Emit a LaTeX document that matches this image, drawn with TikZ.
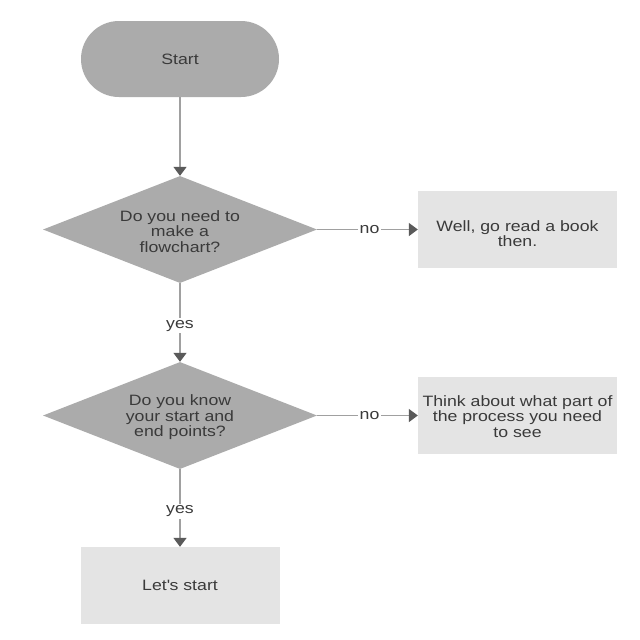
\documentclass[tikz,border=0pt]{standalone}
\usepackage{fontspec}
\setmainfont{Liberation Sans}[FakeStretch=1.18]
\usetikzlibrary{shapes.geometric,arrows.meta}
\definecolor{darkfill}{HTML}{ABABAB}
\definecolor{lightfill}{HTML}{E4E4E4}
\definecolor{linegray}{HTML}{A0A0A0}
\definecolor{headgray}{HTML}{5A5A5A}
\definecolor{txtgray}{HTML}{3A3A3A}
\begin{document}
\begin{tikzpicture}[x=1pt,y=-1pt,
  every node/.style={font=\fontsize{15pt}{15.5pt}\selectfont, text=txtgray},
  startbox/.style={rectangle, rounded corners=38pt, fill=darkfill, minimum width=198pt, minimum height=76pt, inner sep=0pt},
  decbox/.style={diamond, fill=darkfill, minimum width=274pt, minimum height=107pt, inner sep=0pt},
  procbox/.style={rectangle, fill=lightfill, minimum width=199pt, minimum height=77pt, inner sep=0pt},
  lbl/.style={align=center, inner sep=0pt},
  conn/.style={draw=linegray, line width=1.6pt, -{Triangle[color=headgray, width=13pt, length=9pt]}},
  tag/.style={fill=white, inner sep=2pt}
]
\useasboundingbox (0,0) rectangle (640,640);
\fill[white] (0,0) rectangle (640,640);

\node[startbox] (start) at (180,59) {};
\node[lbl] (startt) at (start.center) {Start};

\node[decbox] (d1) at (180,229.5) {};
\node[lbl] (d1t) at ([yshift=-2pt]d1.center) {Do you need to\\make a\\flowchart?};

\node[procbox] (b1) at (517.5,229.5) {};
\node[lbl] (b1t) at ([yshift=-4pt]b1.center) {Well, go read a book\\then.};

\node[decbox] (d2) at (180,415.5) {};
\node[lbl] (d2t) at ([yshift=-2pt]d2.center) {Do you know\\your start and\\end points?};

\node[procbox] (b2) at (517.5,415.5) {};
\node[lbl] (b2t) at ([yshift=-1pt]b2.center) {Think about what part of\\the process you need\\to see};

\node[procbox] (b3) at (180,585.5) {};
\node[lbl] (b3t) at (b3.center) {Let\textquotesingle s start};

\draw[conn] (start.south) -- (d1.north);
\draw[conn] (d1.east) -- node[tag, pos=0.52] (n1) {no} (b1.west);
\draw[conn] (d1.south) -- node[tag, pos=0.54] (y1) {yes} (d2.north);
\draw[conn] (d2.east) -- node[tag, pos=0.52] (n2) {no} (b2.west);
\draw[conn] (d2.south) -- node[tag, pos=0.54] (y2) {yes} (b3.north);
\end{tikzpicture}
\end{document}
